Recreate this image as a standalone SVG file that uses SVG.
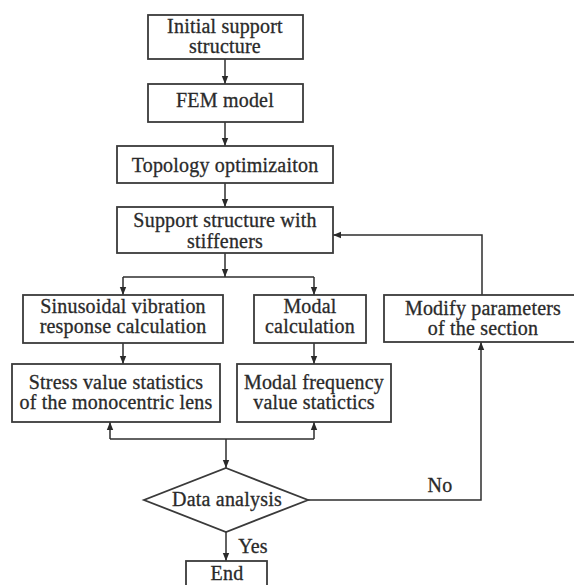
<svg xmlns="http://www.w3.org/2000/svg" width="574" height="585" viewBox="0 0 574 585">
<defs>
<marker id="arr" markerUnits="userSpaceOnUse" markerWidth="8" markerHeight="8" viewBox="0 0 8 8" refX="8" refY="4" orient="auto">
<path d="M0,0.8 L8,4 L0,7.2 Z" fill="#2a2a2a"/>
</marker>
<style>
.box{fill:#fff;stroke:#3a3a3a;stroke-width:1.8}
.t{font-family:"Liberation Serif","Times New Roman",serif;font-size:20px;letter-spacing:0.2px;fill:#2a2a2a;stroke:#2a2a2a;stroke-width:0.3;text-anchor:middle}
.c{fill:none;stroke:#2e2e2e;stroke-width:1.5}
.ca{fill:none;stroke:#2e2e2e;stroke-width:1.5;marker-end:url(#arr)}
</style>
</defs>
<rect width="574" height="585" fill="#fff"/>
<g id="connectors">
<path class="ca" d="M225,59 V84"/>
<path class="ca" d="M225,122 V146"/>
<path class="ca" d="M225,183 V207"/>
<path class="ca" d="M225,253 V277"/>
<path class="c" d="M123,277 H314"/>
<path class="ca" d="M123,277 V295"/>
<path class="ca" d="M314,277 V295"/>
<path class="ca" d="M123,343 V364"/>
<path class="ca" d="M314,343 V364"/>
<path class="c" d="M110,439 H314"/>
<path class="ca" d="M110,439 V422"/>
<path class="ca" d="M314,439 V422"/>
<path class="ca" d="M226,439 V468"/>
<path class="ca" d="M308,500 H481 V342"/>
<path class="ca" d="M482,296 V235 H333"/>
<path class="ca" d="M226,532 V561"/>
</g>
<g id="n1"><rect class="box" x="148" y="15" width="155" height="44"/><text class="t" x="225" y="33">Initial support</text><text class="t" x="225" y="53">structure</text></g>
<g id="n2"><rect class="box" x="148" y="84" width="155" height="38"/><text class="t" x="225" y="107">FEM model</text></g>
<g id="n3"><rect class="box" x="117" y="146" width="216" height="37"/><text class="t" x="225" y="172">Topology optimizaiton</text></g>
<g id="n4"><rect class="box" x="117" y="207" width="216" height="46"/><text class="t" x="225" y="227">Support structure with</text><text class="t" x="225" y="248">stiffeners</text></g>
<g id="n5"><rect class="box" x="23" y="295" width="200" height="48"/><text class="t" x="123" y="313">Sinusoidal vibration</text><text class="t" x="123" y="333">response calculation</text></g>
<g id="n6"><rect class="box" x="254" y="295" width="112" height="48"/><text class="t" x="310" y="313">Modal</text><text class="t" x="310" y="333">calculation</text></g>
<g id="n7"><rect class="box" x="384" y="295" width="200" height="47"/><text class="t" x="483" y="315">Modify parameters</text><text class="t" x="483" y="335">of the section</text></g>
<g id="n8"><rect class="box" x="12" y="364" width="208" height="58"/><text class="t" x="116" y="389">Stress value statistics</text><text class="t" x="116" y="409">of the monocentric lens</text></g>
<g id="n9"><rect class="box" x="237" y="364" width="154" height="58"/><text class="t" x="314" y="389">Modal frequency</text><text class="t" x="314" y="409">value statictics</text></g>
<g id="n10"><path class="box" d="M226,468 L308,500 L226,532 L144,500 Z"/><text class="t" x="227" y="506">Data analysis</text></g>
<g id="n11"><rect class="box" x="186" y="561" width="81" height="40"/><text class="t" x="227" y="580">End</text></g>
<g id="labels"><text class="t" x="440" y="492">No</text><text class="t" x="253" y="553">Yes</text></g>
</svg>
